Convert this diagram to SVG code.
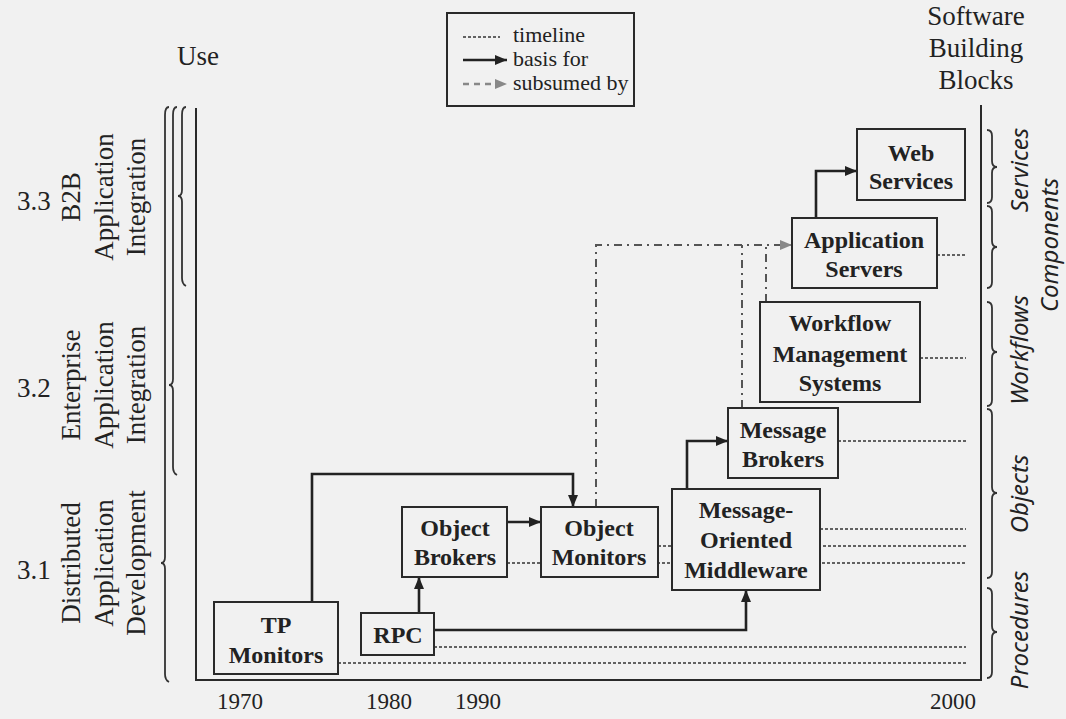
<svg xmlns="http://www.w3.org/2000/svg" width="1066" height="719" viewBox="0 0 1066 719">
<defs>
<marker id="ah" viewBox="0 0 12 10" refX="12" refY="5" markerWidth="12" markerHeight="10" markerUnits="userSpaceOnUse" orient="auto"><path d="M0,0 L12,5 L0,10 z" fill="#222"/></marker>
<marker id="ahg" viewBox="0 0 12 10" refX="12" refY="5" markerWidth="12" markerHeight="10" markerUnits="userSpaceOnUse" orient="auto"><path d="M0,0 L12,5 L0,10 z" fill="#888"/></marker>
</defs>
<style>
.bg{fill:#f1f1f1}
.box{fill:#f1f1f1;stroke:#2a2a2a;stroke-width:2}
.nt{font-family:"Liberation Serif",serif;font-weight:bold;font-size:24px;fill:#222;text-anchor:middle}
.lab{font-family:"Liberation Serif",serif;font-size:27px;fill:#222}
.yr{font-family:"Liberation Serif",serif;font-size:23px;fill:#222}
.leg{font-family:"Liberation Serif",serif;font-size:22px;fill:#222}
.cat{font-family:"Noto Sans",sans-serif;font-style:italic;font-size:24px;fill:#222;text-anchor:middle}
.tl{fill:none;stroke:#333;stroke-width:1.6;stroke-dasharray:3 2}
.dd{fill:none;stroke:#555;stroke-width:2;stroke-dasharray:8 5 2 5}
.ar{fill:none;stroke:#222;stroke-width:2.6;marker-end:url(#ah)}
.fr{fill:none;stroke:#2a2a2a;stroke-width:2}
.br{fill:none;stroke:#333;stroke-width:1.8}
</style>
<rect class="bg" x="0" y="0" width="1066" height="719"/>

<g id="legend">
<rect x="447" y="13" width="187" height="93" fill="none" stroke="#2a2a2a" stroke-width="2"/>
<line x1="463" y1="37" x2="500" y2="37" class="tl"/>
<line x1="463" y1="60" x2="507" y2="60" class="ar"/>
<line x1="463" y1="84" x2="507" y2="84" stroke="#888" stroke-width="2.6" stroke-dasharray="6 5" marker-end="url(#ahg)"/>
<text class="leg" x="513" y="42">timeline</text>
<text class="leg" x="513" y="66">basis for</text>
<text class="leg" x="513" y="90">subsumed by</text>
</g>

<g id="axis-labels">
<text class="lab" x="198" y="65" text-anchor="middle">Use</text>
<text class="lab" x="976" y="25" text-anchor="middle">Software</text>
<text class="lab" x="976" y="57" text-anchor="middle">Building</text>
<text class="lab" x="976" y="89" text-anchor="middle">Blocks</text>
<text class="yr" x="217" y="709">1970</text>
<text class="yr" x="366" y="709">1980</text>
<text class="yr" x="455" y="709">1990</text>
<text class="yr" x="930" y="709">2000</text>
</g>

<g id="use-labels">
<text class="lab" x="17" y="210" font-size="25">3.3</text>
<text class="lab" x="17" y="397" font-size="25">3.2</text>
<text class="lab" x="17" y="579" font-size="25">3.1</text>
<g text-anchor="middle">
<text class="lab" transform="translate(80,197) rotate(-90)">B2B</text>
<text class="lab" transform="translate(113,197) rotate(-90)">Application</text>
<text class="lab" transform="translate(145,197) rotate(-90)">Integration</text>
<text class="lab" transform="translate(80,385) rotate(-90)">Enterprise</text>
<text class="lab" transform="translate(113,385) rotate(-90)">Application</text>
<text class="lab" transform="translate(145,385) rotate(-90)">Integration</text>
<text class="lab" transform="translate(80,563) rotate(-90)">Distributed</text>
<text class="lab" transform="translate(113,563) rotate(-90)">Application</text>
<text class="lab" transform="translate(145,563) rotate(-90)">Development</text>
</g>
<path class="br" d="M186,107 Q182,107 182,115 L182,190 Q182,196 178,196 Q182,196 182,202 L182,278 Q182,284 186,286"/>
<path class="br" d="M177,107 Q173,107 173,115 L173,379 Q173,385 169,385 Q173,385 173,391 L173,467 Q173,473 177,475"/>
<path class="br" d="M169,107 Q165,107 165,115 L165,557 Q165,563 161,563 Q165,563 165,569 L165,674 Q165,680 169,682"/>
</g>

<g id="categories">
<path class="br" d="M987,130 Q992,130 992,136 L992,161 Q992,167 997,167 Q992,167 992,173 L992,197 Q992,203 987,203"/>
<path class="br" d="M987,206 Q992,206 992,212 L992,241 Q992,247 997,247 Q992,247 992,253 L992,282 Q992,288 987,288"/>
<path class="br" d="M987,302 Q992,302 992,308 L992,346 Q992,352 997,352 Q992,352 992,358 L992,400 Q992,406 987,406"/>
<path class="br" d="M987,409 Q992,409 992,415 L992,487 Q992,493 997,493 Q992,493 992,499 L992,572 Q992,578 987,578"/>
<path class="br" d="M987,588 Q992,588 992,594 L992,626 Q992,632 997,632 Q992,632 992,638 L992,672 Q992,678 987,678"/>
<text class="cat" transform="translate(1028,170) rotate(-90)">Services</text>
<text class="cat" transform="translate(1058,245) rotate(-90)">Components</text>
<text class="cat" transform="translate(1028,350) rotate(-90)">Workflows</text>
<text class="cat" transform="translate(1028,494) rotate(-90)">Objects</text>
<text class="cat" transform="translate(1028,630) rotate(-90)">Procedures</text>
</g>

<g id="frame">
<path class="fr" d="M196,108 L196,680 L981,680 L981,105"/>
</g>

<g id="connectors">
<line class="tl" x1="937" y1="255" x2="966" y2="255"/>
<line class="tl" x1="920" y1="358" x2="966" y2="358"/>
<line class="tl" x1="838" y1="441" x2="966" y2="441"/>
<line class="tl" x1="820" y1="529" x2="966" y2="529"/>
<line class="tl" x1="658" y1="546" x2="966" y2="546"/>
<line class="tl" x1="507" y1="563" x2="966" y2="563"/>
<line class="tl" x1="434" y1="647" x2="966" y2="647"/>
<line class="tl" x1="338" y1="663" x2="966" y2="663"/>
<path class="dd" d="M596,507 L596,245 L780,245"/>
<line x1="780" y1="245" x2="792" y2="245" stroke="#888" stroke-width="2" marker-end="url(#ahg)"/>
<path class="dd" d="M742,408 L742,245"/>
<path class="dd" d="M766,302 L766,245"/>
<path class="ar" d="M312,602 L312,474 L573,474 L573,507"/>
<path class="ar" d="M419,613 L419,577"/>
<path class="ar" d="M434,630 L746,630 L746,590"/>
<path class="ar" d="M507,522 L541,522"/>
<path class="ar" d="M687,489 L687,441 L728,441"/>
<path class="ar" d="M816,218 L816,171 L857,171"/>
</g>

<g id="web-services">
<rect class="box" x="857" y="129" width="108" height="71"/>
<text class="nt" x="911" y="161">Web</text>
<text class="nt" x="911" y="189">Services</text>
</g>
<g id="application-servers">
<rect class="box" x="792" y="218" width="145" height="70"/>
<text class="nt" x="864" y="248">Application</text>
<text class="nt" x="864" y="277">Servers</text>
</g>
<g id="workflow-management-systems">
<rect class="box" x="760" y="302" width="160" height="100"/>
<text class="nt" x="840" y="331">Workflow</text>
<text class="nt" x="840" y="362">Management</text>
<text class="nt" x="840" y="391">Systems</text>
</g>
<g id="message-brokers">
<rect class="box" x="728" y="408" width="110" height="70"/>
<text class="nt" x="783" y="438">Message</text>
<text class="nt" x="783" y="467">Brokers</text>
</g>
<g id="message-oriented-middleware">
<rect class="box" x="672" y="489" width="148" height="101"/>
<text class="nt" x="746" y="518">Message-</text>
<text class="nt" x="746" y="548">Oriented</text>
<text class="nt" x="746" y="578">Middleware</text>
</g>
<g id="object-monitors">
<rect class="box" x="541" y="507" width="117" height="70"/>
<text class="nt" x="599" y="536">Object</text>
<text class="nt" x="599" y="565">Monitors</text>
</g>
<g id="object-brokers">
<rect class="box" x="402" y="507" width="105" height="70"/>
<text class="nt" x="455" y="536">Object</text>
<text class="nt" x="455" y="565">Brokers</text>
</g>
<g id="tp-monitors">
<rect class="box" x="214" y="602" width="124" height="72"/>
<text class="nt" x="276" y="633">TP</text>
<text class="nt" x="276" y="663">Monitors</text>
</g>
<g id="rpc">
<rect class="box" x="361" y="613" width="73" height="42"/>
<text class="nt" x="398" y="643">RPC</text>
</g>
</svg>
